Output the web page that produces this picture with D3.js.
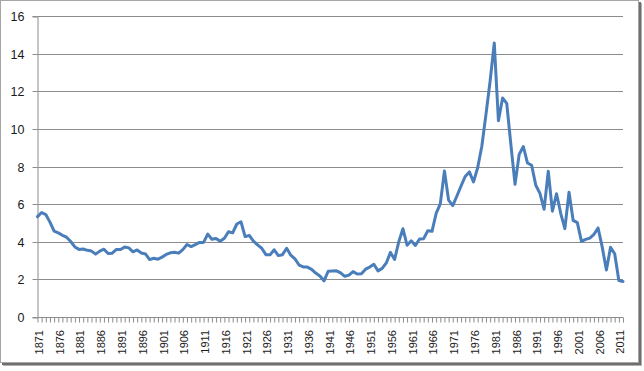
<!DOCTYPE html>
<html>
<head>
<meta charset="utf-8">
<script src="https://cdn.jsdelivr.net/npm/d3@7"></script>
<style>
  html, body { margin: 0; padding: 0; background: #fff; }
  svg { display: block; }
</style>
</head>
<body>
<svg id="chart" width="644" height="371"></svg>
<script>
// Data (years on category axis, long-term interest rate %)
const startYear = 1871;
const endYear = 2012;
const years = d3.range(startYear, endYear + 1);
const rates = [
  5.36, 5.58, 5.47, 5.07, 4.59, 4.50, 4.37, 4.27, 4.04, 3.75,
  3.62, 3.64, 3.57, 3.53, 3.37, 3.53, 3.63, 3.40, 3.42, 3.62,
  3.61, 3.75, 3.70, 3.49, 3.59, 3.43, 3.38, 3.08, 3.15, 3.10,
  3.21, 3.35, 3.44, 3.47, 3.42, 3.61, 3.88, 3.77, 3.87, 3.99,
  3.99, 4.43, 4.16, 4.20, 4.05, 4.21, 4.56, 4.50, 4.97, 5.09,
  4.30, 4.36, 4.06, 3.86, 3.68, 3.34, 3.33, 3.60, 3.29, 3.34,
  3.68, 3.31, 3.12, 2.79, 2.69, 2.68, 2.56, 2.36, 2.21, 1.95,
  2.46, 2.47, 2.48, 2.37, 2.19, 2.25, 2.44, 2.31, 2.32, 2.57,
  2.68, 2.83, 2.48, 2.61, 2.90, 3.46, 3.09, 4.02, 4.72, 3.84,
  4.08, 3.83, 4.17, 4.19, 4.61, 4.58, 5.53, 6.04, 7.79, 6.24,
  5.95, 6.46, 6.99, 7.50, 7.74, 7.21, 7.96, 9.10, 10.80, 12.57,
  14.59, 10.46, 11.67, 11.38, 9.19, 7.08, 8.67, 9.09, 8.21, 8.09,
  7.03, 6.60, 5.75, 7.78, 5.65, 6.58, 5.54, 4.72, 6.66, 5.16,
  5.04, 4.05, 4.15, 4.22, 4.42, 4.76, 3.74, 2.52, 3.73, 3.39,
  1.97, 1.91
];
const yTicks = [0, 2, 4, 6, 8, 10, 12, 14, 16];
const xLabelYears = years.filter(y => (y - startYear) % 5 === 0);

const svg = d3.select("#chart");

// Frame with shadow
svg.append("rect").attr("x", 3).attr("y", 3).attr("width", 639).attr("height", 363).attr("fill", "#b0b0b0");
svg.append("rect").attr("x", 2).attr("y", 2).attr("width", 639).attr("height", 363).attr("fill", "#6e6e6e");
svg.append("rect").attr("x", 0.5).attr("y", 0.5).attr("width", 638).attr("height", 362)
  .attr("fill", "#fff").attr("stroke", "#a6a6a6").attr("stroke-width", 1);

const x = d3.scalePoint().domain(years).range([37.5, 623]);
const y = d3.scaleLinear().domain([0, 16]).range([317.5, 16.5]);
const snap = v => Math.round(v - 0.5) + 0.5;

// Gridlines
svg.append("g").selectAll("line").data(yTicks.filter(t => t > 0)).join("line")
  .attr("x1", 37.5).attr("x2", 623)
  .attr("y1", d => snap(y(d))).attr("y2", d => snap(y(d)))
  .attr("stroke", "#8c8c8c").attr("stroke-width", 1);

// Y axis
const yAxis = d3.axisLeft(y).tickValues(yTicks).tickSize(5).tickPadding(8).tickFormat(d3.format("d"));
const gy = svg.append("g").attr("transform", "translate(37.5,0)").call(yAxis);
gy.select(".domain").attr("stroke", "#8c8c8c");
gy.selectAll(".tick line").attr("stroke", "#8c8c8c");
gy.selectAll(".tick").attr("transform", d => `translate(0,${snap(y(d))})`);
gy.selectAll(".tick text").attr("font-family", "'Liberation Sans', Arial, sans-serif")
  .attr("font-size", "12.5px").attr("fill", "#1a1a1a").attr("x", -13).attr("dy", "0.36em");

// X axis
const xAxis = d3.axisBottom(x).tickValues(years).tickSize(5).tickFormat("");
const gx = svg.append("g").attr("transform", "translate(0,317.5)").call(xAxis);
gx.select(".domain").attr("stroke", "#8c8c8c").attr("d", "M37.5,0H623");
gx.selectAll(".tick line").attr("stroke", "#8c8c8c");
gx.selectAll(".tick text").remove();

// X labels (rotated)
svg.append("g").selectAll("text").data(xLabelYears).join("text")
  .attr("transform", d => `translate(${x(d) + 1.5},330) rotate(-90)`)
  .attr("text-anchor", "end")
  .attr("dy", "0.36em")
  .attr("font-family", "'Liberation Sans', Arial, sans-serif")
  .attr("font-size", "11px")
  .attr("fill", "#1a1a1a")
  .text(d => d);

// Line
const line = d3.line().x((d, i) => x(years[i])).y(d => y(d));
svg.append("path").datum(rates)
  .attr("d", line)
  .attr("fill", "none")
  .attr("stroke", "#4a7ebb")
  .attr("stroke-width", 3)
  .attr("stroke-linejoin", "round")
  .attr("stroke-linecap", "round");
</script>
</body>
</html>
